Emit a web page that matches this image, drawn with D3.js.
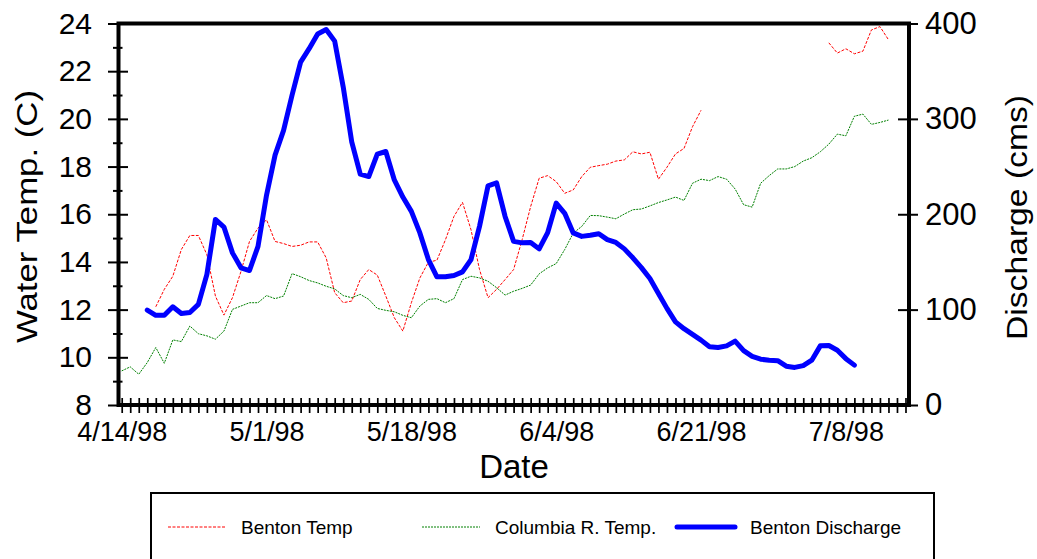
<!DOCTYPE html>
<html>
<head>
<meta charset="utf-8">
<script src="https://cdn.jsdelivr.net/npm/d3@7"></script>
<style>
  body { margin: 0; background: #fff; }
  svg { display: block; font-family: "Liberation Sans", Arial, sans-serif; }
</style>
</head>
<body>
<svg id="chart" width="1037" height="559"></svg>
<script>
// ---- data: one reading per day starting 4/14/98 (null = no reading) ----
const firstDay = "1998-04-14";
const lastTickDay = "1998-07-15";
const dateLabels = ["1998-04-14", "1998-05-01", "1998-05-18", "1998-06-04", "1998-06-21", "1998-07-08"];
const tempTicks = [8, 10, 12, 14, 16, 18, 20, 22, 24];
const tempMinorTicks = [9, 11, 13, 15, 17, 19, 21, 23];
const dischargeTicks = [0, 100, 200, 300, 400];

const bentonTemp = [
  null, null, null, null, 12.12, 12.85, 13.40, 14.52, 15.11, 15.11,
  14.30, 12.57, 11.77, 12.50, 13.60, 14.86, 15.42, 15.77, 14.86, 14.77,
  14.65, 14.70, 14.84, 14.84, 14.17, 12.71, 12.29, 12.36, 13.26, 13.68,
  13.45, 12.57, 11.66, 11.10, 12.29, 13.33, 13.99, 14.07, 14.93, 15.91,
  16.50, 15.35, 13.68, 12.50, 12.85, 13.26, 13.68, 14.93, 16.32, 17.51,
  17.62, 17.37, 16.88, 17.02, 17.58, 17.97, 18.04, 18.10, 18.23, 18.28,
  18.62, 18.53, 18.60, 17.47, 17.97, 18.53, 18.76, 19.67, 20.36, null,
  null, null, null, null, null, null, null, null, null, null,
  null, null, null, 23.19, 22.76, 22.94, 22.73, 22.84, 23.73, 23.87,
  23.32
];

const columbiaTemp = [
  9.43, 9.60, 9.29, 9.78, 10.41, 9.75, 10.73, 10.66, 11.31, 10.99,
  10.90, 10.76, 11.10, 12.01, 12.15, 12.29, 12.29, 12.59, 12.46, 12.57,
  13.51, 13.38, 13.22, 13.12, 12.98, 12.87, 12.59, 12.50, 12.64, 12.43,
  12.05, 11.97, 11.91, 11.76, 11.66, 12.15, 12.43, 12.46, 12.29, 12.46,
  13.26, 13.40, 13.33, 13.19, 12.92, 12.61, 12.77, 12.89, 13.03, 13.50,
  13.75, 13.93, 14.52, 15.21, 15.49, 15.95, 15.94, 15.88, 15.81, 16.01,
  16.19, 16.22, 16.35, 16.49, 16.60, 16.72, 16.58, 17.30, 17.47, 17.41,
  17.58, 17.47, 17.06, 16.40, 16.30, 17.30, 17.62, 17.90, 17.90, 18.00,
  18.23, 18.37, 18.62, 18.94, 19.36, 19.29, 20.11, 20.20, 19.77, 19.85,
  19.95
];

const bentonDischarge = [
  null, null, null, 99.5, 94, 94, 103, 96, 97, 105.5,
  137, 194.5, 186.6, 159.5, 143.8, 141, 166.4, 220, 262, 288,
  325, 359.6, 373.6, 389, 393.7, 381.5, 333.5, 276, 242, 239.5,
  263, 265.8, 236, 218, 203, 180.4, 152.5, 134.4, 134.4, 135.8,
  139.6, 152.5, 187.3, 229.8, 233, 197.7, 171.6, 170, 170.5, 163.7,
  180.7, 211.7, 201, 180.4, 176.8, 177.9, 179.6, 173.4, 170.5, 163.7,
  154.3, 144, 132.6, 117, 101.3, 87.2, 80, 74, 68, 61,
  60.3, 62, 67, 57, 51, 48, 47, 46.5, 40.7, 39.4,
  41.3, 47, 62, 62.4, 57.4, 48.6, 41.8, null, null, null,
  null
];

const legendItems = [
  { name: "Benton Temp", key: "benton" },
  { name: "Columbia R. Temp.", key: "columbia" },
  { name: "Benton Discharge", key: "discharge" }
];

// ---- layout ----
const parse = d3.timeParse("%Y-%m-%d");
const fmt = d => `${d.getMonth() + 1}/${d.getDate()}/${String(d.getFullYear()).slice(2)}`;
const frame = { left: 118.5, right: 909, top: 23.5, bottom: 405 };

const start = parse(firstDay);
const end = parse(lastTickDay);
const days = d3.timeDay.range(start, d3.timeDay.offset(end, 1));
const dataDays = days.slice(0, columbiaTemp.length);

const x = d3.scaleTime().domain([start, end]).range([121.7, 905.5]);
const yT = d3.scaleLinear().domain([8, 24]).range([frame.bottom, frame.top]);
const yQ = d3.scaleLinear().domain([0, 400]).range([frame.bottom, frame.top]);

const styles = {
  benton:    { color: "#ff0000", width: 1, dash: "3,1.5" },
  columbia:  { color: "#008000", width: 1, dash: "2,1" },
  discharge: { color: "#0000ff", width: 5, dash: null }
};

const svg = d3.select("#chart");

// ---- series ----
function drawSeries(values, yScale, style) {
  const line = d3.line()
    .defined(d => d[1] != null)
    .x(d => x(d[0]))
    .y(d => yScale(d[1]));
  svg.append("path")
    .datum(dataDays.map((d, i) => [d, values[i]]))
    .attr("fill", "none")
    .attr("stroke", style.color)
    .attr("stroke-width", style.width)
    .attr("stroke-dasharray", style.dash)
    .attr("stroke-linejoin", "round")
    .attr("stroke-linecap", style.dash ? "butt" : "round")
    .attr("d", line);
}
drawSeries(bentonTemp, yT, styles.benton);
drawSeries(columbiaTemp, yT, styles.columbia);
drawSeries(bentonDischarge, yQ, styles.discharge);

// ---- axes ----
// daily tick marks crossing the date axis
const xTicks = svg.append("g")
  .attr("transform", `translate(0,${frame.bottom})`)
  .call(d3.axisBottom(x).tickValues(days).tickFormat("").tickSizeOuter(0));
xTicks.select(".domain").remove();
xTicks.selectAll(".tick line").attr("y1", -7).attr("y2", 8).attr("stroke-width", 1.7);

// date labels every 17 days
const xLabels = svg.append("g")
  .attr("transform", `translate(0,${frame.bottom})`)
  .call(d3.axisBottom(x).tickValues(dateLabels.map(parse)).tickFormat(fmt).tickSize(0).tickPadding(17));
xLabels.select(".domain").remove();
xLabels.selectAll("text").attr("font-size", 27).attr("font-family", "Liberation Sans, Arial, sans-serif").attr("fill", "#000");

// left temperature axis
const yLeft = svg.append("g")
  .attr("transform", `translate(${frame.left},0)`)
  .call(d3.axisLeft(yT).tickValues(tempTicks).tickSize(0).tickPadding(26.5));
yLeft.select(".domain").remove();
yLeft.selectAll("text").attr("font-size", 30).attr("font-family", "Liberation Sans, Arial, sans-serif").attr("fill", "#000");
yLeft.selectAll(".tick line").attr("x1", -10.5).attr("x2", 9.5).attr("stroke-width", 2);

const yLeftMinor = svg.append("g")
  .attr("transform", `translate(${frame.left},0)`)
  .call(d3.axisLeft(yT).tickValues(tempMinorTicks).tickFormat("").tickSize(0));
yLeftMinor.select(".domain").remove();
yLeftMinor.selectAll(".tick line").attr("x1", -5.5).attr("x2", 4).attr("stroke-width", 2);

// right discharge axis
const yRight = svg.append("g")
  .attr("transform", `translate(${frame.right},0)`)
  .call(d3.axisRight(yQ).tickValues(dischargeTicks).tickSize(0).tickPadding(16));
yRight.select(".domain").remove();
yRight.selectAll("text").attr("font-size", 31).attr("font-family", "Liberation Sans, Arial, sans-serif").attr("fill", "#000");
yRight.selectAll(".tick line").attr("x1", -11).attr("x2", 9).attr("stroke-width", 2);

// plot frame
svg.append("rect")
  .attr("x", frame.left).attr("y", frame.top)
  .attr("width", frame.right - frame.left).attr("height", frame.bottom - frame.top)
  .attr("fill", "none").attr("stroke", "#000").attr("stroke-width", 4);

// ---- titles ----
svg.append("text")
  .attr("transform", "translate(37,216.5) rotate(-90)")
  .attr("text-anchor", "middle")
  .attr("font-size", 30)
  .attr("textLength", 253).attr("lengthAdjust", "spacingAndGlyphs")
  .text("Water Temp. (C)");

svg.append("text")
  .attr("transform", "translate(1027,217.5) rotate(-90)")
  .attr("text-anchor", "middle")
  .attr("font-size", 30)
  .attr("textLength", 245).attr("lengthAdjust", "spacingAndGlyphs")
  .text("Discharge (cms)");

svg.append("text")
  .attr("x", 514).attr("y", 478)
  .attr("text-anchor", "middle")
  .attr("font-size", 33)
  .text("Date");

// ---- legend ----
svg.append("rect")
  .attr("x", 151).attr("y", 493).attr("width", 783).attr("height", 90)
  .attr("fill", "#fff").attr("stroke", "#000").attr("stroke-width", 2);

const legendX = [168, 422, 677];
const legend = svg.append("g").selectAll("g")
  .data(legendItems).join("g")
  .attr("transform", (d, i) => `translate(${legendX[i]},527)`);
legend.append("line")
  .attr("x1", 0).attr("x2", 58)
  .attr("stroke", d => styles[d.key].color)
  .attr("stroke-width", d => styles[d.key].width)
  .attr("stroke-dasharray", d => styles[d.key].dash)
  .attr("stroke-linecap", d => styles[d.key].dash ? "butt" : "round");
legend.append("text")
  .attr("x", 73).attr("y", 6.5)
  .attr("font-size", 19)
  .text(d => d.name);
</script>
</body>
</html>
